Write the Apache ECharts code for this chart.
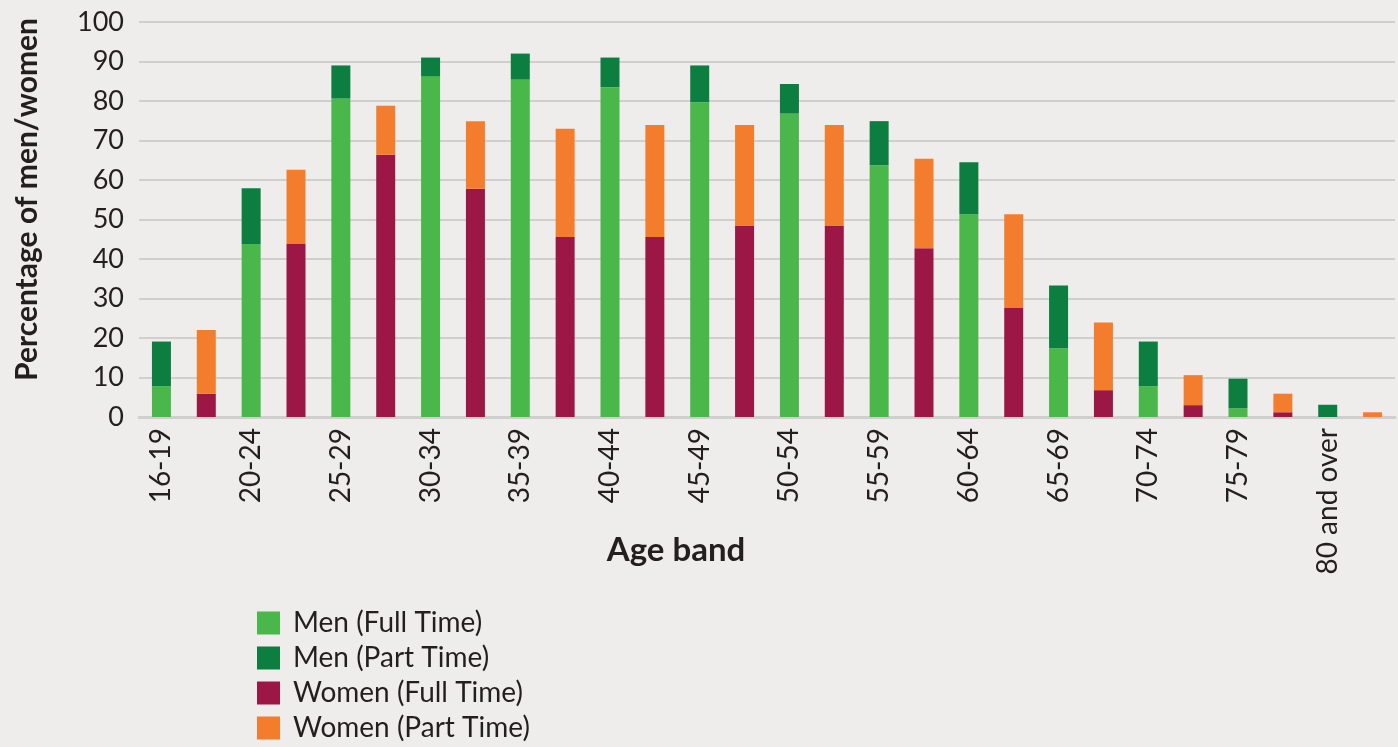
<!DOCTYPE html>
<html>
<head>
<meta charset="utf-8">
<script src="https://cdn.jsdelivr.net/npm/echarts@6/dist/echarts.min.js"></script>
<style>
html,body{margin:0;padding:0;background:#eeedeb;}
#chart{width:1398px;height:747px;}
</style>
</head>
<body>
<div id="chart"></div>
<script>
// ---- Data ----
const ageBands = ['16-19','20-24','25-29','30-34','35-39','40-44','45-49','50-54','55-59','60-64','65-69','70-74','75-79','80 and over'];
const menFullTime   = [7.8, 43.8, 80.6, 86.3, 85.4, 83.5, 79.7, 76.8, 63.7, 51.3, 17.4, 7.8, 2.2, 0];
const menPartTime   = [11.3, 14.1, 8.4, 4.7, 6.6, 7.5, 9.3, 7.5, 11.2, 13.2, 15.9, 11.3, 7.5, 3.1];
const womenFullTime = [5.9, 43.8, 66.4, 57.8, 45.6, 45.6, 48.5, 48.5, 42.7, 27.6, 6.8, 3.0, 1.2, 0];
const womenPartTime = [16.1, 18.8, 12.4, 17.1, 27.4, 28.3, 25.4, 25.4, 22.7, 23.7, 17.1, 7.6, 4.7, 1.2];
const yTicks = {min: 0, max: 100, interval: 10};
const seriesNames = ['Men (Full Time)', 'Men (Part Time)', 'Women (Full Time)', 'Women (Part Time)'];
const seriesColors = ['#49b74a', '#0c7e40', '#9c1746', '#f47d2d'];

// Interleave: men bar then women bar per age band
const categories = [];
ageBands.forEach(b => { categories.push(b); categories.push(b + ' (women)'); });
function menSlot(arr){ const out=[]; arr.forEach(v=>{ out.push(v); out.push('-'); }); return out; }
function womenSlot(arr){ const out=[]; arr.forEach(v=>{ out.push('-'); out.push(v); }); return out; }

const seriesData = [menSlot(menFullTime), menSlot(menPartTime), womenSlot(womenFullTime), womenSlot(womenPartTime)];

const FONT = 'Lato';
const TXT = '#231f20';

const chart = echarts.init(document.getElementById('chart'), null, {renderer: 'canvas'});
chart.setOption({
  backgroundColor: '#eeedeb',
  animation: false,
  textStyle: {fontFamily: FONT},
  grid: {left: 139, right: 3, top: 22, bottom: 330, containLabel: false},
  legend: {
    orient: 'vertical',
    left: 257, top: 609, height: 138,
    padding: 0,
    itemWidth: 23, itemHeight: 23, itemGap: 7,
    icon: 'rect',
    data: seriesNames,
    textStyle: {fontFamily: FONT, fontSize: 28, color: TXT, padding: [0,0,0,8]}
  },
  xAxis: {
    type: 'category',
    data: categories,
    name: 'Age band',
    nameLocation: 'middle',
    nameGap: 117,
    nameMoveOverlap: false,
    nameTextStyle: {fontFamily: FONT, fontSize: 33, fontWeight: 'bold', color: TXT, padding: [0,182,0,0]},
    axisLine: {show: true, lineStyle: {color: '#cfcfcd', width: 3}},
    axisTick: {show: false},
    axisLabel: {
      interval: 0, rotate: 90, margin: 11,
      fontFamily: FONT, fontSize: 28, color: TXT,
      formatter: v => v.endsWith(' (women)') ? '' : v
    }
  },
  yAxis: {
    type: 'value',
    min: yTicks.min, max: yTicks.max, interval: yTicks.interval,
    name: 'Percentage of men/women',
    nameLocation: 'middle',
    nameGap: 97,
    nameTextStyle: {fontFamily: FONT, fontSize: 30, fontWeight: 'bold', color: TXT, padding: [0,0,0,40]},
    axisLine: {show: false},
    axisTick: {show: false},
    axisLabel: {margin: 15, fontFamily: FONT, fontSize: 27, color: TXT},
    splitLine: {lineStyle: {color: '#cfcfcd', width: 2}}
  },
  series: seriesNames.map((n, i) => ({
    name: n,
    type: 'bar',
    stack: 'total',
    barWidth: 19,
    data: seriesData[i],
    itemStyle: {color: seriesColors[i]}
  }))
});
</script>
</body>
</html>
